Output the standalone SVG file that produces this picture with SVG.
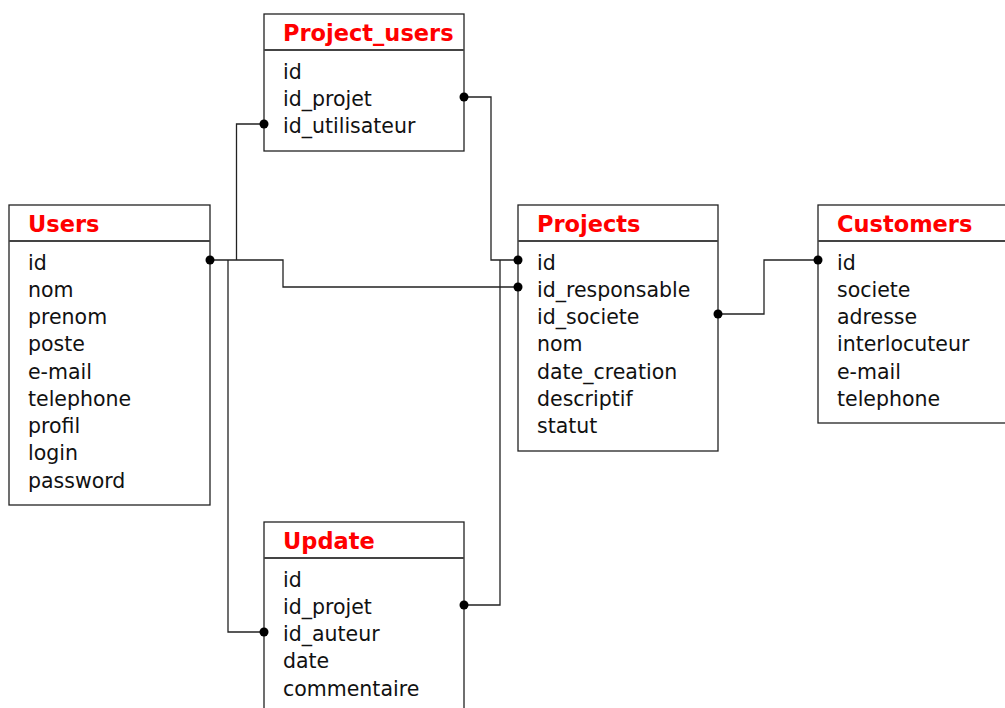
<svg xmlns="http://www.w3.org/2000/svg" width="1005" height="708" viewBox="0 0 1005 708">
<style>
.box{fill:#fff;stroke:#222;stroke-width:1.3}
.hl{stroke:#444;stroke-width:2}
.t{font-family:"DejaVu Sans",sans-serif;font-weight:bold;font-size:22.5px;fill:#f00}
.f{font-family:"DejaVu Sans",sans-serif;font-size:20.5px;fill:#111}
.c{fill:none;stroke:#222;stroke-width:1.3}
.d{fill:#000}
</style>
<rect width="1005" height="708" fill="#fff"/>
<g id="users">
<rect class="box" x="9" y="205" width="201" height="300"/>
<line class="hl" x1="9" y1="241" x2="210" y2="241"/>
<text class="t" x="28" y="232">Users</text>
<text class="f" x="28" y="270">id</text>
<text class="f" x="28" y="297">nom</text>
<text class="f" x="28" y="324">prenom</text>
<text class="f" x="28" y="351">poste</text>
<text class="f" x="28" y="379">e-mail</text>
<text class="f" x="28" y="406">telephone</text>
<text class="f" x="28" y="433">profil</text>
<text class="f" x="28" y="460">login</text>
<text class="f" x="28" y="488">password</text>
</g>
<g id="project_users">
<rect class="box" x="264" y="14" width="200" height="137"/>
<line class="hl" x1="264" y1="50" x2="464" y2="50"/>
<text class="t" x="283" y="41">Project_users</text>
<text class="f" x="283" y="79">id</text>
<text class="f" x="283" y="106">id_projet</text>
<text class="f" x="283" y="133">id_utilisateur</text>
</g>
<g id="projects">
<rect class="box" x="518" y="205" width="200" height="246"/>
<line class="hl" x1="518" y1="241" x2="718" y2="241"/>
<text class="t" x="537" y="232">Projects</text>
<text class="f" x="537" y="270">id</text>
<text class="f" x="537" y="297">id_responsable</text>
<text class="f" x="537" y="324">id_societe</text>
<text class="f" x="537" y="351">nom</text>
<text class="f" x="537" y="379">date_creation</text>
<text class="f" x="537" y="406">descriptif</text>
<text class="f" x="537" y="433">statut</text>
</g>
<g id="customers">
<rect class="box" x="818" y="205" width="200" height="218"/>
<line class="hl" x1="818" y1="241" x2="1018" y2="241"/>
<text class="t" x="837" y="232">Customers</text>
<text class="f" x="837" y="270">id</text>
<text class="f" x="837" y="297">societe</text>
<text class="f" x="837" y="324">adresse</text>
<text class="f" x="837" y="351">interlocuteur</text>
<text class="f" x="837" y="379">e-mail</text>
<text class="f" x="837" y="406">telephone</text>
</g>
<g id="update">
<rect class="box" x="264" y="522" width="200" height="200"/>
<line class="hl" x1="264" y1="558" x2="464" y2="558"/>
<text class="t" x="283" y="549">Update</text>
<text class="f" x="283" y="587">id</text>
<text class="f" x="283" y="614">id_projet</text>
<text class="f" x="283" y="641">id_auteur</text>
<text class="f" x="283" y="668">date</text>
<text class="f" x="283" y="696">commentaire</text>
</g>
<g id="connectors">
<polyline class="c" points="210,260 283,260 283,287 518,287"/>
<polyline class="c" points="236.5,260 236.5,124 264,124"/>
<polyline class="c" points="228,260 228,632 264,632"/>
<polyline class="c" points="464,97 491,97 491,260 518,260"/>
<polyline class="c" points="464,605 500,605 500,260"/>
<polyline class="c" points="718,314 764,314 764,260 818,260"/>
<circle class="d" cx="210" cy="260" r="4.5"/>
<circle class="d" cx="518" cy="287" r="4.5"/>
<circle class="d" cx="264" cy="124" r="4.5"/>
<circle class="d" cx="264" cy="632" r="4.5"/>
<circle class="d" cx="464" cy="97" r="4.5"/>
<circle class="d" cx="518" cy="260" r="4.5"/>
<circle class="d" cx="464" cy="605" r="4.5"/>
<circle class="d" cx="718" cy="314" r="4.5"/>
<circle class="d" cx="818" cy="260" r="4.5"/>
</g>
</svg>
